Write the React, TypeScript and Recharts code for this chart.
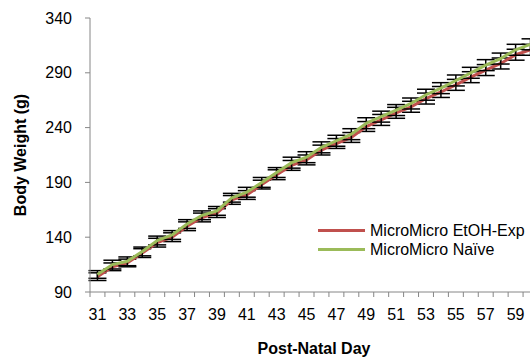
import {
  ErrorBar,
  Label,
  Legend,
  Line,
  LineChart,
  XAxis,
  YAxis,
} from "recharts";

const days = [
  31, 32, 33, 34, 35, 36, 37, 38, 39, 40, 41, 42, 43, 44, 45, 46, 47, 48, 49,
  50, 51, 52, 53, 54, 55, 56, 57, 58, 59, 60,
];

const etohExp = [
  104, 113, 116.5, 125.5, 135, 140, 150, 158, 162, 174, 178.5, 188, 197, 205.5,
  210.5, 219.5, 225.5, 231, 241, 247, 253.5, 259, 266.5, 272.5, 279, 286,
  292.5, 298.5, 306.5, 311,
];
const naive = [
  106, 115, 118, 127, 137, 142, 152, 160, 164, 176, 181, 190, 199, 208, 213,
  222, 228, 234, 244, 250, 256, 262, 270, 276, 283, 290, 297, 303, 311, 316,
];

const etohErr = [
  3.5, 3.5, 3.5, 4, 4, 4, 4, 4, 4, 4, 4, 4, 4.5, 4.5, 4.5, 4.5, 4.5, 4.5, 4.5,
  5, 5, 5, 5, 5, 5, 5, 5, 5, 5, 5,
];
const naiveErr = [
  3.5, 4, 4, 4, 4, 4, 4, 4, 4, 4, 4.5, 4.5, 4.5, 5, 5, 5, 5, 5, 5, 5, 5, 5, 5,
  5, 5, 5, 5, 5, 5, 5,
];

const yTicks = [90, 140, 190, 240, 290, 340];

const RED = "#C0504D";
const GREEN = "#9BBB59";
const AXIS = "#868686";
const FONT = "'Liberation Sans', Arial, sans-serif";

// chart is a little wider than the frame, so day 60 sits past the right edge
const CHART_W = 540;
const CHART_H = 358;
const PLOT_LEFT = 90;
const PLOT_BOTTOM = 292;
const PLOT_RIGHT_MARGIN = 2;
const HALF_STEP = (CHART_W - PLOT_LEFT - PLOT_RIGHT_MARGIN) / days.length / 2;

const data = days.map((day, i) => ({
  day,
  etoh: etohExp[i],
  etohErr: etohErr[i],
  naive: naive[i],
  naiveErr: naiveErr[i],
}));

// tick marks fall between days, labels on every other day
function DayTick(props: any) {
  const { x, y, payload } = props;
  const day = payload.value as number;
  return (
    <g>
      <line
        x1={x - HALF_STEP}
        x2={x - HALF_STEP}
        y1={y}
        y2={y + 5}
        stroke={AXIS}
        strokeWidth={1}
      />
      {day % 2 === 1 && (
        <text
          x={x}
          y={y + 28}
          textAnchor="middle"
          fill="#000"
          fontSize={16}
          fontFamily={FONT}
        >
          {day}
        </text>
      )}
    </g>
  );
}

// weight labels right-aligned a fixed distance left of the axis line
function WeightTick(props: any) {
  const { y, payload } = props;
  return (
    <text
      x={PLOT_LEFT - 18}
      y={y}
      dy={5.5}
      textAnchor="end"
      fill="#000"
      fontSize={16}
      fontFamily={FONT}
    >
      {payload.value}
    </text>
  );
}

function DayTitle(props: any) {
  const { viewBox } = props;
  return (
    <text
      x={viewBox.x + viewBox.width / 2}
      y={PLOT_BOTTOM + 62}
      textAnchor="middle"
      fill="#000"
      fontSize={16}
      fontWeight="bold"
      fontFamily={FONT}
    >
      Post-Natal Day
    </text>
  );
}

function SeriesLegend(props: any) {
  const { payload } = props;
  return (
    <div style={{ fontFamily: FONT, fontSize: 16, color: "#000" }}>
      {payload.map((entry: any) => (
        <div
          key={entry.value}
          style={{ display: "flex", alignItems: "center", height: 19 }}
        >
          <span
            style={{
              display: "inline-block",
              width: 47,
              height: 3,
              background: entry.color,
              marginRight: 5,
            }}
          />
          <span style={{ whiteSpace: "nowrap" }}>{entry.value}</span>
        </div>
      ))}
    </div>
  );
}

export default function App() {
  return (
    <div
      style={{
        position: "absolute",
        left: 0,
        top: 0,
        width: 530,
        height: 358,
        overflow: "hidden",
        background: "#fff",
      }}
    >
      <LineChart
        width={CHART_W}
        height={CHART_H}
        data={data}
        margin={{ top: 18, right: PLOT_RIGHT_MARGIN, bottom: 0, left: 0 }}
      >
        <XAxis
          dataKey="day"
          type="number"
          domain={[30.5, 60.5]}
          ticks={days}
          interval={0}
          allowDataOverflow
          height={CHART_H - PLOT_BOTTOM}
          stroke={AXIS}
          tickLine={false}
          tickSize={0}
          tickMargin={0}
          tick={<DayTick />}
        >
          <Label content={<DayTitle />} />
        </XAxis>
        <YAxis
          domain={[90, 340]}
          ticks={yTicks}
          interval={0}
          width={PLOT_LEFT}
          stroke={AXIS}
          tickSize={5}
          tick={<WeightTick />}
        >
          <Label
            value="Body Weight (g)"
            angle={-90}
            position="insideLeft"
            offset={20}
            style={{
              textAnchor: "middle",
              fontFamily: FONT,
              fontSize: 16,
              fontWeight: "bold",
              fill: "#000",
            }}
          />
        </YAxis>
        <Legend
          layout="vertical"
          align="center"
          verticalAlign="middle"
          content={<SeriesLegend />}
          wrapperStyle={{ position: "absolute", left: 318, top: 221, width: "auto" }}
        />
        <Line
          dataKey="etoh"
          name="MicroMicro EtOH-Exp"
          stroke={RED}
          strokeWidth={3}
          dot={false}
          isAnimationActive={false}
        >
          <ErrorBar
            dataKey="etohErr"
            width={9}
            stroke="#000"
            strokeWidth={1.5}
            isAnimationActive={false}
          />
        </Line>
        <Line
          dataKey="naive"
          name="MicroMicro Naïve"
          stroke={GREEN}
          strokeWidth={3}
          dot={false}
          isAnimationActive={false}
        >
          <ErrorBar
            dataKey="naiveErr"
            width={9}
            stroke="#000"
            strokeWidth={1.5}
            isAnimationActive={false}
          />
        </Line>
      </LineChart>
    </div>
  );
}
